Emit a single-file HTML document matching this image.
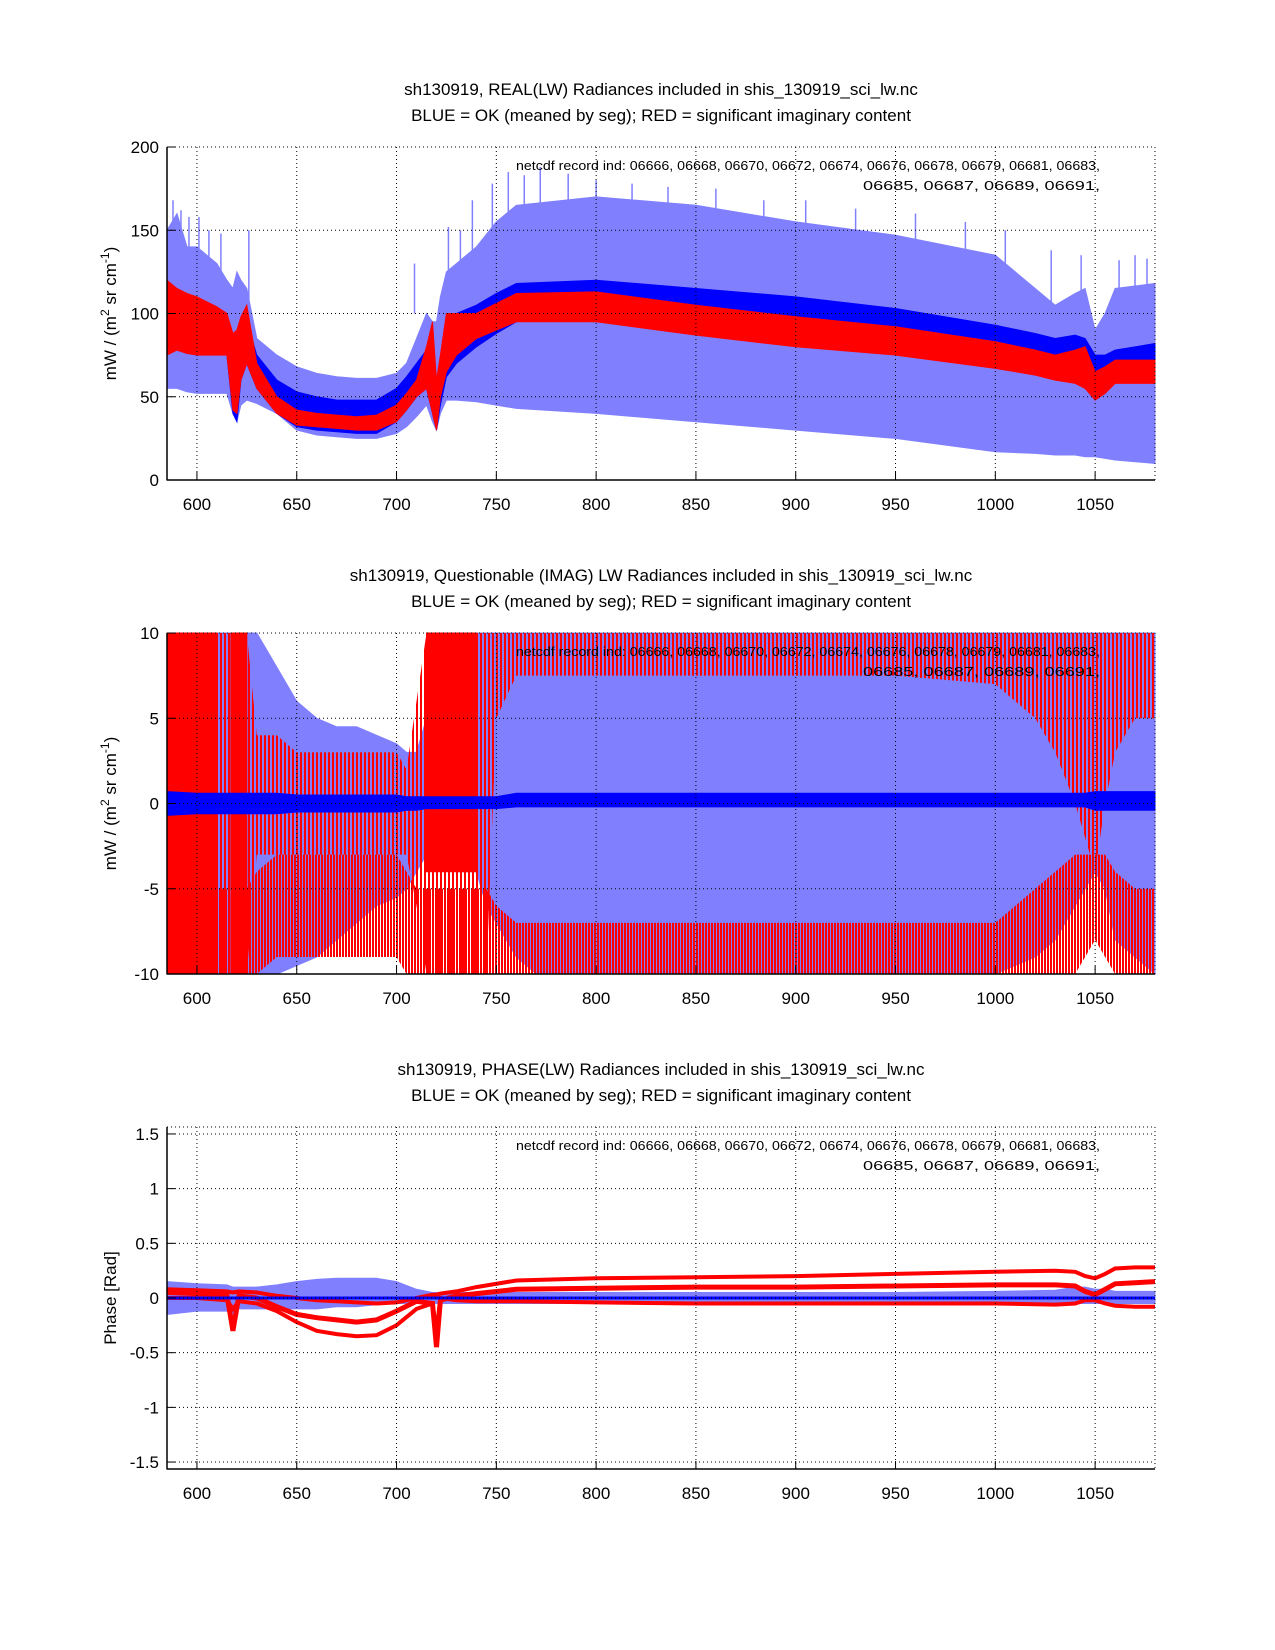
<!DOCTYPE html>
<html><head><meta charset="utf-8"><style>
body{margin:0;background:#fff}
svg{display:block;font-family:"Liberation Sans",sans-serif}
</style></head><body>
<svg id="fig" width="1275" height="1650" viewBox="0 0 1275 1650" xmlns="http://www.w3.org/2000/svg">
<defs>
<pattern id="sparseRed" width="4" height="10" patternUnits="userSpaceOnUse"><rect x="0" y="0" width="2" height="10" fill="#ff0000"/></pattern>
<pattern id="denseRed" width="3" height="10" patternUnits="userSpaceOnUse"><rect x="0" y="0" width="2" height="10" fill="#ff0000"/></pattern>
</defs>
<rect width="1275" height="1650" fill="#fff"/>
</svg>
<script>
// ---- plot 1 (REAL) ----
const p1W = [585,590,595,600,605,610,615,618,620,622,625,630,640,650,660,670,680,690,700,705,710,715,718,720,722,725,730,740,750,760,800,850,900,950,1000,1020,1030,1040,1045,1050,1055,1060,1080];
const p1LightHi = [150,160,140,140,135,130,120,115,125,120,115,85,75,68,64,62,61,61,64,70,85,100,95,95,110,125,130,140,155,165,170,165,155,147,135,115,105,112,115,90,100,115,118];
const p1LightLo = [55,55,53,52,52,52,52,40,35,45,48,46,40,30,27,26,25,25,28,32,38,45,35,30,40,48,48,47,45,43,40,35,30,25,17,16,15,15,14,14,13,12,10];
const p1BlueHi = [110,112,108,105,103,102,100,85,80,92,95,75,60,53,50,48,48,48,55,62,70,78,80,50,70,95,100,105,112,118,120,115,110,103,93,88,85,87,85,75,75,78,82];
const p1BlueLo = [80,80,80,80,78,77,75,40,35,60,70,55,40,32,30,29,28,28,35,42,50,55,40,30,45,62,70,80,88,95,100,95,90,85,75,72,70,62,55,50,52,60,60];
const p1RedHi = [120,115,112,110,107,104,100,88,90,98,105,70,50,42,40,39,38,39,45,52,60,80,95,60,75,100,100,100,106,112,113,105,98,92,83,78,75,78,80,65,68,72,72];
const p1RedLo = [75,78,76,75,75,75,75,42,40,60,70,55,40,33,32,31,30,30,35,42,50,55,40,30,50,65,75,85,90,95,95,87,80,75,67,63,60,58,55,48,52,58,58];
const p1SpikeX = [588,592,596,601,606,612,626,709,726,732,738,748,756,764,772,786,800,818,836,860,884,905,930,960,985,1005,1028,1043,1062,1070,1076];
const p1SpikeY = [168,162,158,158,150,148,150,130,152,150,168,178,185,183,188,184,180,178,176,175,168,168,163,160,155,150,138,135,132,135,133];

// ---- plot 2 (IMAG) ----
const p2W = [585,600,610,613,617,625,630,640,650,660,670,680,690,700,705,710,715,720,730,740,745,750,760,770,800,850,900,950,1000,1020,1030,1040,1045,1050,1055,1060,1070,1080];
const p2LightHi = [10,10,10,10,10,10,10,8,6,5,4.5,4.5,4,3.5,3,3,5,10,10,10,10,10,10,10,10,10,10,10,10,10,10,10,10,10,10,10,10,10];
const p2LightLo = [-10,-10,-10,-10,-10,-10,-10,-10,-9.5,-9,-8,-7,-6,-5.5,-5,-4,-3,-3,-4,-4,-6,-7,-9,-10,-10,-10,-10,-10,-10,-9,-8,-6,-5,-4,-5,-8,-9,-10];
const p2SolidHi = [10,10,10,null,10,10,null,null,null,null,null,null,null,null,null,null,10,10,10,10,null,null,null,null,null,null,null,null,null,null,null,null,null,null,null,null,null,null];
const p2SolidLo = [-10,-10,-10,null,-10,-10,null,null,null,null,null,null,null,null,null,null,-4,-4,-4,-4,null,null,null,null,null,null,null,null,null,null,null,null,null,null,null,null,null,null];
const p2SparseHi = [10,10,10,10,10,10,4,4,3,3,3,3,3,3,2,6,10,10,10,10,10,10,10,10,10,10,10,10,10,10,10,10,10,10,10,10,10,10];
const p2SparseLo = [-10,-10,-10,-10,-10,-10,-3,-3,-3,-3,-3,-3,-3,-3,-3,-6,-10,-10,-10,-10,-10,5,7.5,7.5,7.5,7.5,7.5,7.5,7,5,3,0,-2,-4,0,3,5,5];
const p2DenseHi = [-5,-5,-5,-5,-5,-5,-4,-3,-3,-3,-3,-3,-3,-3,-4,-5,-5,-5,-5,-5,-5,-6,-7,-7,-7,-7,-7,-7,-7,-5,-4,-3,-3,-3,-3,-4,-5,-5];
const p2DenseLo = [-10,-10,-10,-10,-10,-10,-10,-9,-9,-9,-9,-9,-9,-9,-10,-10,-10,-10,-10,-10,-10,-10,-10,-10,-10,-10,-10,-10,-10,-10,-10,-10,-9,-8,-9,-10,-10,-10];
const p2BlueHi = [0.7,0.6,0.6,0.6,0.6,0.6,0.6,0.6,0.5,0.5,0.5,0.5,0.5,0.5,0.4,0.4,0.4,0.4,0.4,0.4,0.4,0.4,0.6,0.6,0.6,0.6,0.6,0.6,0.6,0.6,0.6,0.6,0.6,0.7,0.7,0.7,0.7,0.7];
const p2BlueLo = [-0.7,-0.6,-0.6,-0.6,-0.6,-0.6,-0.6,-0.6,-0.5,-0.5,-0.5,-0.5,-0.5,-0.5,-0.4,-0.4,-0.3,-0.3,-0.3,-0.3,-0.3,-0.3,-0.2,-0.2,-0.2,-0.2,-0.2,-0.2,-0.2,-0.2,-0.2,-0.2,-0.2,-0.4,-0.4,-0.4,-0.4,-0.4];

// ---- plot 3 (PHASE) ----
const p3W = [585,600,615,618,621,630,640,650,660,670,680,690,700,710,718,720,722,730,740,760,800,850,900,950,1000,1030,1040,1045,1050,1055,1060,1070,1080];
const p3LightHi = [0.15,0.13,0.12,0.1,0.1,0.1,0.12,0.15,0.17,0.18,0.18,0.18,0.15,0.08,0.05,0.05,0.05,0.05,0.05,0.05,0.05,0.05,0.05,0.05,0.06,0.07,0.1,0.1,0.08,0.08,0.06,0.06,0.06];
const p3LightLo = [-0.15,-0.12,-0.12,-0.15,-0.1,-0.1,-0.1,-0.1,-0.1,-0.08,-0.08,-0.06,-0.05,-0.05,-0.05,-0.05,-0.05,-0.05,-0.05,-0.05,-0.05,-0.05,-0.05,-0.05,-0.05,-0.05,-0.05,-0.05,-0.05,-0.05,-0.05,-0.05,-0.05];
const p3RedA = [0.08,0.07,0.06,0.05,0.06,0.05,0.02,0.0,-0.02,-0.03,-0.04,-0.05,-0.04,0.0,0.03,0.03,0.04,0.06,0.1,0.16,0.18,0.19,0.2,0.22,0.24,0.25,0.24,0.2,0.18,0.22,0.27,0.28,0.28];
const p3RedB = [0.05,0.04,0.03,-0.3,0.02,0.0,-0.08,-0.15,-0.18,-0.2,-0.22,-0.2,-0.12,-0.03,-0.05,-0.45,-0.02,0.02,0.04,0.08,0.09,0.1,0.1,0.11,0.12,0.12,0.11,0.06,0.03,0.08,0.13,0.14,0.15];
const p3RedC = [0.0,0.0,-0.02,-0.1,-0.03,-0.05,-0.12,-0.22,-0.3,-0.33,-0.35,-0.34,-0.25,-0.1,-0.05,-0.3,0.0,-0.02,-0.03,-0.03,-0.04,-0.05,-0.05,-0.05,-0.05,-0.06,-0.05,-0.02,-0.02,-0.05,-0.07,-0.08,-0.08];

const xTicks = [600,650,700,750,800,850,900,950,1000,1050];
const p1YTicks = [0,50,100,150,200];
const p2YTicks = [-10,-5,0,5,10];
const p3YTicks = [-1.5,-1,-0.5,0,0.5,1,1.5];

const NS = "http://www.w3.org/2000/svg";
const svg = document.getElementById('fig');
const X0 = 167, X1 = 1155, XMIN = 585, XMAX = 1080;
function xs(v){ return X0 + (v - XMIN) * (X1 - X0) / (XMAX - XMIN); }
function mk(tag, attrs, parent){
  const e = document.createElementNS(NS, tag);
  for (const k in attrs) e.setAttribute(k, attrs[k]);
  (parent || svg).appendChild(e);
  return e;
}
function makeY(top, bot, ymin, ymax){ return v => bot - (v - ymin) * (bot - top) / (ymax - ymin); }

function band(g, w, hi, lo, color, ys, name, stroke){
  let segs = [], cur = [];
  w.forEach((v,i)=>{
    if (hi[i] === null || lo[i] === null) { if (cur.length) segs.push(cur); cur = []; }
    else cur.push(i);
  });
  if (cur.length) segs.push(cur);
  segs.forEach(seg => {
    if (seg.length < 2) return;
    let d = '';
    seg.forEach((i,k)=>{ d += (k? 'L':'M') + xs(w[i]).toFixed(1) + ',' + ys(hi[i]).toFixed(1); });
    for (let k = seg.length-1; k >= 0; k--) d += 'L' + xs(w[seg[k]]).toFixed(1) + ',' + ys(lo[seg[k]]).toFixed(1);
    const p = mk('path', {d: d + 'Z', fill: color, stroke: stroke || 'none', 'stroke-width': 1}, g);
    
    
  });
}
function line(g, w, vals, color, ys, width, name){
  let d = '';
  w.forEach((v,i)=>{ d += (i? 'L':'M') + xs(v).toFixed(1) + ',' + ys(vals[i]).toFixed(1); });
  const p = mk('path', {d: d, fill: 'none', stroke: color, 'stroke-width': width}, g);
  
  
}

function axes(cfg){
  const g = mk('g', {});
  
  
  const ys = makeY(cfg.top, cfg.bot, cfg.ymin, cfg.ymax);
  cfg.draw(g, ys);
  xTicks.forEach(t => {
    const gl = mk('line', {x1: xs(t), x2: xs(t), y1: cfg.top, y2: cfg.bot, stroke: '#000', 'stroke-width': 1, 'stroke-dasharray': '1,3'}, g);
    
    
    mk('line', {x1: xs(t), x2: xs(t), y1: cfg.bot, y2: cfg.bot - 8, stroke: '#000', 'stroke-width': 1}, g);
    const tl = mk('text', {x: xs(t), y: cfg.bot + 30, 'font-size': 17, 'text-anchor': 'middle'}, g);
    tl.textContent = t;
    
    
  });
  cfg.yTicks.forEach(t => {
    const y = ys(t);
    const gl = mk('line', {x1: X0, x2: X1, y1: y, y2: y, stroke: '#000', 'stroke-width': 1, 'stroke-dasharray': '1,3'}, g);
    
    
    mk('line', {x1: X0, x2: X0 + 8, y1: y, y2: y, stroke: '#000', 'stroke-width': 1}, g);
    const tl = mk('text', {x: 159, y: y + 6, 'font-size': 17, 'text-anchor': 'end'}, g);
    tl.textContent = t;
    
    
  });
  mk('line', {x1: X0, x2: X1, y1: cfg.top, y2: cfg.top, stroke: '#000', 'stroke-width': 1, 'stroke-dasharray': '1,3'}, g);
  mk('line', {x1: X1, x2: X1, y1: cfg.top, y2: cfg.bot, stroke: '#000', 'stroke-width': 1, 'stroke-dasharray': '1,3'}, g);
  mk('line', {x1: X0, x2: X0, y1: cfg.top, y2: cfg.bot + 0.5, stroke: '#000', 'stroke-width': 1.5}, g);
  mk('line', {x1: X0, x2: X1, y1: cfg.bot, y2: cfg.bot, stroke: '#000', 'stroke-width': 1.5}, g);
  const t1 = mk('text', {x: 661, y: cfg.top - 52, 'font-size': 17, 'text-anchor': 'middle'}, g);
  t1.textContent = cfg.title;
  
  
  const t2 = mk('text', {x: 661, y: cfg.top - 26, 'font-size': 17, 'text-anchor': 'middle'}, g);
  t2.textContent = 'BLUE = OK (meaned by seg); RED = significant imaginary content';
  
  
  const a1 = mk('text', {x: 516, y: cfg.top + 23, 'font-size': 13, textLength: 584, lengthAdjust: 'spacingAndGlyphs'}, g);
  a1.textContent = 'netcdf record ind:  06666, 06668, 06670, 06672, 06674, 06676, 06678, 06679, 06681, 06683,';
  
  
  const a2 = mk('text', {x: 863, y: cfg.top + 43, 'font-size': 13, textLength: 237, lengthAdjust: 'spacingAndGlyphs'}, g);
  a2.textContent = '06685, 06687, 06689, 06691,';
  
  
  const cy = (cfg.top + cfg.bot) / 2;
  const yl = mk('text', {x: 0, y: 0, 'font-size': 17, 'text-anchor': 'middle', transform: 'translate(116,' + cy + ') rotate(-90)'}, g);
  
  
  if (cfg.ylabel === 'phase') { yl.textContent = 'Phase [Rad]'; }
  else {
    yl.innerHTML = 'mW / (m<tspan dy="-7" font-size="12">2</tspan><tspan dy="7"> sr cm</tspan><tspan dy="-7" font-size="12">-1</tspan><tspan dy="7">)</tspan>';
  }
}

axes({name: 'real-radiance-chart', top: 147, bot: 480, ymin: 0, ymax: 200, yTicks: p1YTicks,
  title: 'sh130919, REAL(LW) Radiances included in shis_130919_sci_lw.nc',
  draw: (g, ys) => {
    band(g, p1W, p1LightHi, p1LightLo, '#8080ff', ys, 'light-blue-envelope', '#8080ff');
    p1SpikeX.forEach((x,i) => {
      const s = mk('line', {x1: xs(x), x2: xs(x), y1: ys(p1SpikeY[i]), y2: ys(100), stroke: '#8080ff', 'stroke-width': 1.5}, g);
      
      
    });
    band(g, p1W, p1BlueHi, p1BlueLo, '#0000ff', ys, 'blue-mean-band', '#0000ff');
    band(g, p1W, p1RedHi, p1RedLo, '#ff0000', ys, 'red-band', '#ff0000');
  }});

axes({name: 'imag-radiance-chart', top: 633, bot: 974, ymin: -10, ymax: 10, yTicks: p2YTicks,
  title: 'sh130919, Questionable (IMAG) LW Radiances included in shis_130919_sci_lw.nc',
  draw: (g, ys) => {
    band(g, p2W, p2LightHi, p2LightLo, '#8080ff', ys, 'light-blue-envelope', '#8080ff');
    band(g, p2W, p2SparseHi, p2SparseLo, 'url(#sparseRed)', ys, 'red-sparse-band');
    band(g, p2W, p2DenseHi, p2DenseLo, 'url(#denseRed)', ys, 'red-lower-band');
    band(g, p2W, p2SolidHi, p2SolidLo, '#ff0000', ys, 'red-solid-band', '#ff0000');
    band(g, p2W, p2BlueHi, p2BlueLo, '#0000ff', ys, 'blue-mean-band', '#0000ff');
  }});

axes({name: 'phase-chart', top: 1127, bot: 1469, ymin: -1.5635, ymax: 1.5635, yTicks: p3YTicks, ylabel: 'phase',
  title: 'sh130919, PHASE(LW) Radiances included in shis_130919_sci_lw.nc',
  draw: (g, ys) => {
    band(g, p3W, p3LightHi, p3LightLo, '#8080ff', ys, 'light-blue-envelope', '#8080ff');
    line(g, p3W, p3RedA, '#ff0000', ys, 4, 'red-phase-upper');
    line(g, p3W, p3RedB, '#ff0000', ys, 5, 'red-phase-mid');
    line(g, p3W, p3RedC, '#ff0000', ys, 4, 'red-phase-lower');
    line(g, [585,1080], [0,0], '#0000ff', ys, 3, 'blue-phase-mean');
  }});
</script>
</body></html>
